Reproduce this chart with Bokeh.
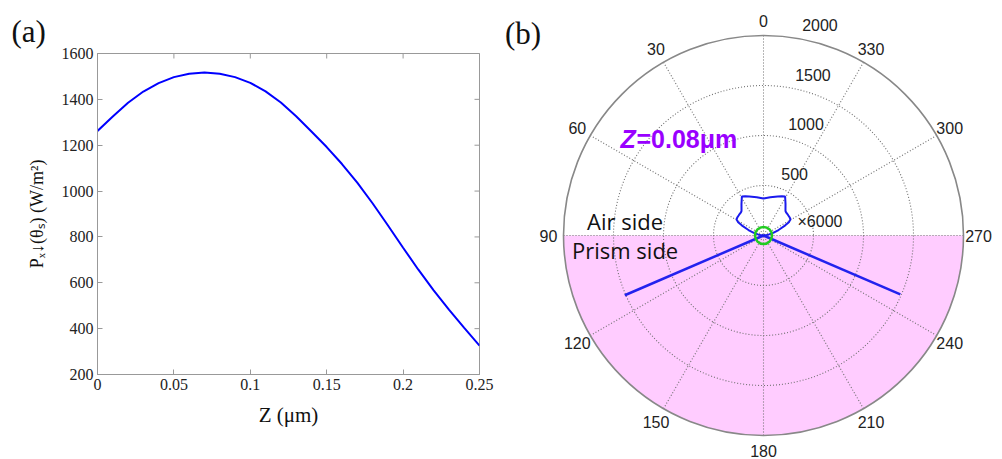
import numpy as np
from bokeh.plotting import figure
from bokeh.models import Range1d, FixedTicker
from bokeh.layouts import row
from bokeh.embed import file_html
from bokeh.resources import INLINE
from bokeh.core.properties import value

# ---------------- data: panel (a) ----------------
z_um = [0.00, 0.01, 0.02, 0.03, 0.04, 0.05, 0.06, 0.07, 0.08, 0.09,
        0.10, 0.11, 0.12, 0.13, 0.14, 0.15, 0.16, 0.17, 0.18, 0.19,
        0.20, 0.21, 0.22, 0.23, 0.24, 0.25]
p_wm2 = [1262, 1325, 1385, 1434, 1471, 1497, 1512, 1517, 1512, 1497,
         1472, 1435, 1386, 1326, 1260, 1192, 1118, 1037, 947, 851,
         753, 657, 567, 483, 403, 326]
x_ticks = [0, 0.05, 0.1, 0.15, 0.2, 0.25]
x_tick_labels = ["0", "0.05", "0.1", "0.15", "0.2", "0.25"]
y_ticks = [200, 400, 600, 800, 1000, 1200, 1400, 1600]

# ---------------- data: panel (b) ----------------
# compass angle (deg, 0 = up, counter-clockwise), displayed radius (air side x6000)
air_theta_deg = [-90, -85, -80, -75, -70, -65, -62, -59, -55, -50, -45, -42, -40, -35,
                 -29, -25, -20, -10, 0, 10, 20, 25, 29, 35, 40, 42, 45, 50, 55, 59,
                 62, 65, 70, 75, 80, 85, 90]
air_r = [0, 15, 50, 100, 160, 240, 290, 315, 318, 320, 322, 329, 342, 384,
         446, 434, 415, 389, 370, 389, 415, 434, 446, 384, 342, 329, 322, 320, 318, 315,
         290, 240, 160, 100, 50, 15, 0]
prism_theta_deg = [113.3, 246.7]
prism_r = [1510, 1490]
ring_r = [500, 1000, 1500]
r_max = 2000
ring_labels = ["500", "1000", "1500", "2000"]
ring_label_r = [500, 1000, 1500, 2000]
angle_ticks = [0, 30, 60, 90, 120, 150, 180, 210, 240, 270, 300, 330]

# ================= panel (a) =================
p1 = figure(width=500, height=459, x_range=Range1d(0, 0.25), y_range=Range1d(200, 1600),
            output_backend="svg", toolbar_location=None,
            min_border_left=97, min_border_right=21, min_border_top=53, min_border_bottom=85)
p1.frame_align = False
p1.line(z_um, p_wm2, line_color="#0000FF", line_width=2)
p1.grid.visible = False
p1.outline_line_color = "#999999"

p1.title.text = "(a)"
p1.title.align = "left"
p1.title.offset = -86
p1.title.text_font = "Liberation Serif"
p1.title.text_font_size = "31px"
p1.title.text_font_style = "normal"
p1.title.text_color = "#111111"
p1.title.standoff = 10

xa = p1.xaxis[0]
ya = p1.yaxis[0]
xa.ticker = FixedTicker(ticks=x_ticks, minor_ticks=[])
xa.major_label_overrides = {t: s for t, s in zip(x_ticks, x_tick_labels)}
ya.ticker = FixedTicker(ticks=y_ticks, minor_ticks=[])
xa.axis_label = "Z (μm)"
ya.axis_label = "Pₓ↓(θₛ) (W/m²)"

for ax in [xa, ya]:
    ax.axis_line_color = "#999999"
    ax.major_tick_line_color = "#999999"
    ax.major_tick_in = 5
    ax.major_tick_out = 0
    ax.minor_tick_line_color = None
    ax.major_label_text_font = "Liberation Serif"
    ax.major_label_text_color = "#222222"
    ax.major_label_text_font_size = "16px"
    ax.major_label_standoff = 4
    ax.axis_label_text_font = "Liberation Serif"
    ax.axis_label_text_color = "#111111"
    ax.axis_label_text_font_style = "normal"
xa.axis_label_text_font_size = "21px"
ya.axis_label_text_font_size = "18px"
xa.axis_label_standoff = 10
ya.axis_label_standoff = 12

# inward ticks on the top and right frame edges (half of each dash is clipped by the frame)
p1.scatter(x=x_ticks, y=[1600] * len(x_ticks), marker="dash", angle=np.pi / 2, size=10,
           line_color="#999999", line_width=1)
p1.scatter(x=[0.25] * len(y_ticks), y=y_ticks, marker="dash", size=10,
           line_color="#999999", line_width=1)

# ================= panel (b) =================
p2 = figure(width=502, height=459, x_range=Range1d(-2630, 2390), y_range=Range1d(-2240, 2350),
            output_backend="svg", toolbar_location=None, min_border=0)
p2.frame_align = False
p2.axis.visible = False
p2.grid.visible = False
p2.outline_line_color = None

# prism half shading
p2.wedge(x=0, y=0, radius=r_max, start_angle=np.pi, end_angle=2 * np.pi,
         fill_color="#FFCCFF", line_color=None)

# spokes
spoke_xs, spoke_ys = [], []
for a in angle_ticks[:6]:
    t = np.deg2rad(a)
    spoke_xs.append([-r_max * np.sin(t), r_max * np.sin(t)])
    spoke_ys.append([r_max * np.cos(t), -r_max * np.cos(t)])
p2.multi_line(spoke_xs, spoke_ys, line_color="#707070", line_width=1.1, line_dash="1 2")

# rings
p2.circle(x=[0] * len(ring_r), y=[0] * len(ring_r), radius=ring_r, fill_color=None,
          line_color="#707070", line_width=1.1, line_dash="1 2")
p2.circle(x=[0], y=[0], radius=[r_max], fill_color=None, line_color="#888888", line_width=1.6)

# angle labels
lab_r = 2150
ax_ = [-lab_r * np.sin(np.deg2rad(a)) for a in angle_ticks]
ay_ = [lab_r * np.cos(np.deg2rad(a)) for a in angle_ticks]
p2.text(ax_, ay_, text=[str(a) for a in angle_ticks], text_align="center",
        text_baseline="middle", text_font=value("Liberation Sans"), text_font_size="16px",
        text_color="#222222")

# radial labels
tilt = np.deg2rad(8)
rx = [r * np.sin(tilt) + 108 for r in ring_label_r]
ry = [r * np.cos(tilt) + 60 for r in ring_label_r]
p2.text(rx, ry, text=ring_labels, text_align="left", text_baseline="bottom",
        text_font=value("Liberation Sans"), text_font_size="16px", text_color="#222222")

# prism side spikes
px_ = [-r * np.sin(np.deg2rad(a)) for r, a in zip(prism_r, prism_theta_deg)]
py_ = [r * np.cos(np.deg2rad(a)) for r, a in zip(prism_r, prism_theta_deg)]
p2.segment(x0=[0, 0], y0=[0, 0], x1=px_, y1=py_, line_color="#2222EE", line_width=2.5)

# air side lobe (x6000)
lx = [-r * np.sin(np.deg2rad(a)) for r, a in zip(air_r, air_theta_deg)]
ly = [r * np.cos(np.deg2rad(a)) for r, a in zip(air_r, air_theta_deg)]
p2.line(lx, ly, line_color="#1a1aEE", line_width=2)

# dipole marker
p2.scatter(x=[0], y=[0], size=17, marker="circle", fill_color=None,
           line_color="#22CC22", line_width=2.5)

# texts
p2.text([340], [145], text=["×6000"], text_align="left", text_baseline="middle",
        text_font=value("Liberation Sans"), text_font_size="16px", text_color="#222222")
p2.text([-1430], [970], text=["Z"], text_align="left", text_baseline="middle",
        text_font=value("Liberation Sans"), text_font_size="25px", text_font_style="bold italic",
        text_color="#9900FF")
p2.text([-1270], [970], text=["=0.08μm"], text_align="left", text_baseline="middle",
        text_font=value("Liberation Sans"), text_font_size="25px", text_font_style="bold",
        text_color="#9900FF")
p2.text([-1765], [150], text=["Air side"], text_align="left", text_baseline="middle",
        text_font=value("Open Sans"), text_font_size="22px", text_color="#111111")
p2.text([-1915], [-140], text=["Prism side"], text_align="left", text_baseline="middle",
        text_font=value("Open Sans"), text_font_size="22px", text_color="#111111")
p2.text([-2585], [2020], text=["(b)"], text_align="left", text_baseline="middle",
        text_font=value("Liberation Serif"), text_font_size="31px", text_color="#111111")

layout = row(p1, p2)
open("out.html", "w").write(file_html(layout, INLINE))
